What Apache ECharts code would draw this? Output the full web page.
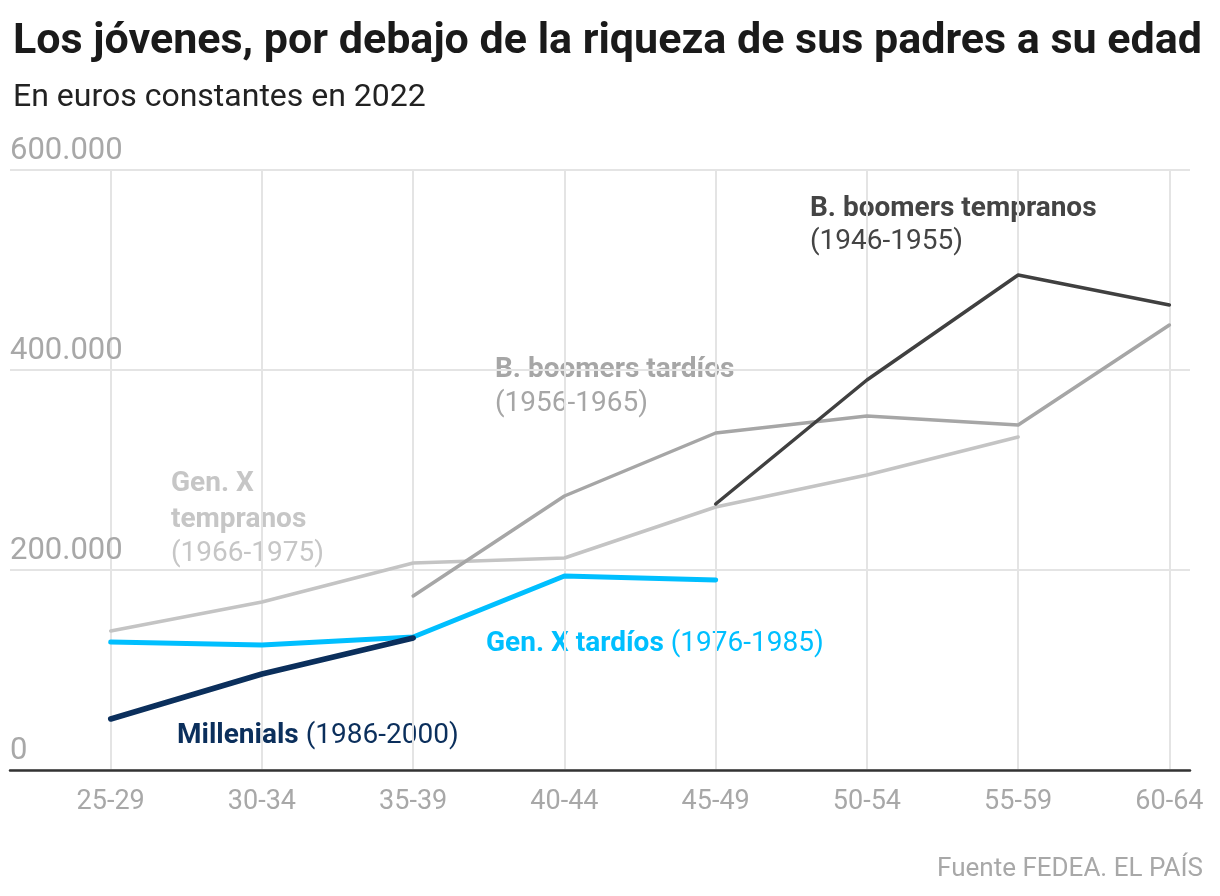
<!DOCTYPE html>
<html>
<head>
<meta charset="utf-8">
<script src="https://cdn.jsdelivr.net/npm/echarts@6/dist/echarts.min.js"></script>
<style>
html,body{margin:0;padding:0;background:#fff;}
#chart{width:1220px;height:896px;}
</style>
</head>
<body>
<div id="chart"></div>
<script>
const categories = ['25-29','30-34','35-39','40-44','45-49','50-54','55-59','60-64'];
const yTicks = [0, 200000, 400000, 600000];
const millenials      = [51000, 96000, 132000, null, null, null, null, null];
const genXTardios     = [128000, 125000, 133000, 194000, 190000, null, null, null];
const genXTempranos   = [139000, 168000, 207000, 212000, 263000, 295000, 333000, null];
const boomersTardios  = [null, null, 174000, 274000, 337000, 354000, 345000, 445000];
const boomersTempranos= [null, null, null, null, 266000, 390000, 495000, 465000];

const FONT = 'Roboto, "Liberation Sans", sans-serif';
const chart = echarts.init(document.getElementById('chart'), null, {renderer:'canvas'});
const fmt = v => String(v).replace(/\B(?=(\d{3})+(?!\d))/g, '.');

function line(name, data, color, width, z){
  return {name, type:'line', xAxisIndex:1, yAxisIndex:1, data, symbol:'none', z,
    lineStyle:{color, width, cap:'round', join:'round'}, connectNulls:false, silent:true};
}
const AF = 28;
chart.setOption({
  animation:false,
  textStyle:{fontFamily:FONT},
  title:[
    {text:'Los jóvenes, por debajo de la riqueza de sus padres a su edad', left:8, top:16,
     textStyle:{fontFamily:FONT, fontWeight:'bold', fontSize:43, color:'#1a1a1a'}},
    {text:'En euros constantes en 2022', left:8, top:77,
     textStyle:{fontFamily:FONT, fontWeight:'normal', fontSize:32, color:'#222'}},
    {text:'Fuente FEDEA. EL PAÍS', right:12, top:851,
     textStyle:{fontFamily:FONT, fontWeight:'normal', fontSize:26, color:'#a8a8a8'}}
  ],
  grid:[
    {left:10, right:30, top:170, bottom:126},
    {left:110.7, right:50.6, top:170, bottom:126}
  ],
  xAxis:[
    {type:'value', gridIndex:0, min:0, max:1, axisLine:{show:true, onZero:false, lineStyle:{color:'#333', width:2.5}},
     axisTick:{show:false}, axisLabel:{show:false}, splitLine:{show:false}},
    {type:'category', gridIndex:1, data:categories, boundaryGap:false,
     axisLine:{show:false}, axisTick:{show:false},
     axisLabel:{color:'#a8a8a8', fontSize:27, margin:19, fontFamily:FONT},
     splitLine:{show:true, lineStyle:{color:'#e4e4e4', width:2}}}
  ],
  yAxis:[
    {type:'value', gridIndex:0, min:0, max:600000, interval:200000,
     axisLine:{show:false}, axisTick:{show:false},
     axisLabel:{inside:true, margin:0, color:'#a8a8a8', fontSize:31, fontFamily:FONT,
       verticalAlign:'bottom', padding:[0,0,3,0], formatter:v => yTicks.includes(v) ? fmt(v) : ''},
     splitLine:{show:true, lineStyle:{color:'#e4e4e4', width:2}}},
    {type:'value', gridIndex:1, min:0, max:600000, interval:200000, show:false, splitLine:{show:false}}
  ],
  series:[
    line('Gen. X tempranos', genXTempranos, '#c4c4c4', 3.5, 2),
    line('B. boomers tardíos', boomersTardios, '#a6a6a6', 3.5, 3),
    line('B. boomers tempranos', boomersTempranos, '#404040', 3.5, 4),
    line('Gen. X tardíos', genXTardios, '#00bfff', 5, 5),
    line('Millenials', millenials, '#0b2f5c', 5.5, 6)
  ],
  graphic:[
    {type:'text', left:810, top:195, style:{text:'B. boomers tempranos', fill:'#444', font:'bold '+AF+'px '+FONT}},
    {type:'text', left:810, top:228, style:{text:'(1946-1955)', fill:'#444', font:AF+'px '+FONT}},
    {type:'text', left:495, top:356, style:{text:'B. boomers tardíos', fill:'#a6a6a6', font:'bold '+AF+'px '+FONT}},
    {type:'text', left:495, top:390, style:{text:'(1956-1965)', fill:'#a6a6a6', font:AF+'px '+FONT}},
    {type:'text', left:171, top:470, style:{text:'Gen. X', fill:'#c6c6c6', font:'bold '+AF+'px '+FONT}},
    {type:'text', left:171, top:506, style:{text:'tempranos', fill:'#c6c6c6', font:'bold '+AF+'px '+FONT}},
    {type:'text', left:171, top:540, style:{text:'(1966-1975)', fill:'#c6c6c6', font:AF+'px '+FONT}},
    {type:'text', left:486, top:630, style:{
      text:'{b|Gen. X tardíos }{r|(1976-1985)}',
      rich:{b:{fill:'#00bfff', font:'bold '+AF+'px '+FONT}, r:{fill:'#00bfff', font:AF+'px '+FONT}}}},
    {type:'text', left:177, top:722, style:{
      text:'{b|Millenials }{r|(1986-2000)}',
      rich:{b:{fill:'#0b2f5c', font:'bold '+AF+'px '+FONT}, r:{fill:'#0b2f5c', font:AF+'px '+FONT}}}}
  ]
});
</script>
</body>
</html>
